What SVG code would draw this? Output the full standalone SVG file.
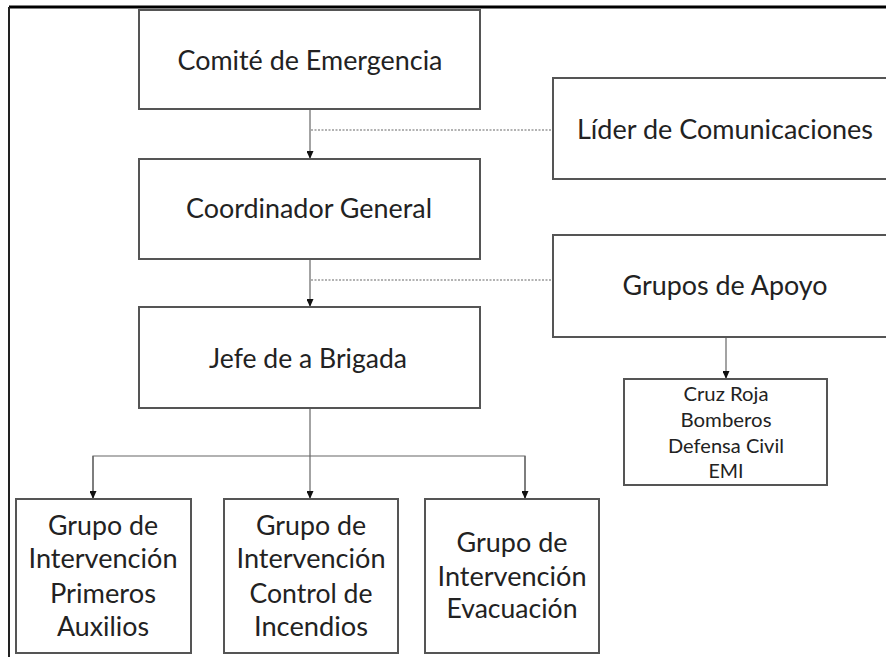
<svg xmlns="http://www.w3.org/2000/svg" width="886" height="657" viewBox="0 0 886 657">
<defs>
<marker id="ah" markerWidth="8" markerHeight="7" refX="8" refY="3.5" orient="auto" markerUnits="userSpaceOnUse">
<path d="M0,0 L8,3.5 L0,7 Z" fill="#111"/>
</marker>
<style>
.box{fill:#fff;stroke:#555;stroke-width:2}
.t{font-family:Lato,"Open Sans","Liberation Sans",sans-serif;fill:#222;text-anchor:middle}
.big{font-size:27px}
.mid{font-size:26px}
.sm{font-size:19px}
.con{fill:none;stroke:#666;stroke-width:1.2}
.dot{fill:none;stroke:#999;stroke-width:1.5;stroke-dasharray:2 1.5}
</style>
</defs>
<rect x="0" y="0" width="886" height="657" fill="#fff"/>
<g id="frame">
<line x1="9" y1="7" x2="886" y2="7" stroke="#000" stroke-width="3"/>
<line x1="9" y1="7" x2="9" y2="657" stroke="#222" stroke-width="2"/>
</g>
<g id="connectors">
<line class="con" x1="310" y1="109" x2="310" y2="159" marker-end="url(#ah)"/>
<line class="con" x1="310" y1="259" x2="310" y2="307" marker-end="url(#ah)"/>
<line class="dot" x1="311" y1="130" x2="553" y2="130"/>
<line class="dot" x1="311" y1="280" x2="553" y2="280"/>
<polyline class="con" points="310,408 310,456"/>
<polyline class="con" points="93,499 93,456 525,456 525,499"/>
<line class="con" x1="93" y1="456" x2="93" y2="499" marker-end="url(#ah)"/>
<line class="con" x1="310" y1="456" x2="310" y2="499" marker-end="url(#ah)"/>
<line class="con" x1="525" y1="456" x2="525" y2="499" marker-end="url(#ah)"/>
<line class="con" x1="726" y1="337" x2="726" y2="379" marker-end="url(#ah)"/>
</g>
<g id="comite">
<rect class="box" x="139" y="10" width="341" height="99"/>
<text class="t big" x="310" y="70" textLength="265" lengthAdjust="spacingAndGlyphs">Comité de Emergencia</text>
</g>
<g id="coordinador">
<rect class="box" x="139" y="159" width="341" height="100"/>
<text class="t big" x="309" y="218" textLength="246" lengthAdjust="spacingAndGlyphs">Coordinador General</text>
</g>
<g id="jefe">
<rect class="box" x="139" y="307" width="341" height="101"/>
<text class="t big" x="308" y="368" textLength="198" lengthAdjust="spacingAndGlyphs">Jefe de a Brigada</text>
</g>
<g id="lider">
<rect class="box" x="553" y="78" width="345" height="101"/>
<text class="t big" x="725" y="139" textLength="296" lengthAdjust="spacingAndGlyphs">Líder de Comunicaciones</text>
</g>
<g id="apoyo">
<rect class="box" x="553" y="235" width="345" height="102"/>
<text class="t big" x="725" y="295" textLength="205" lengthAdjust="spacingAndGlyphs">Grupos de Apoyo</text>
</g>
<g id="entidades">
<rect class="box" x="624" y="379" width="203" height="106"/>
<text class="t sm" x="726" y="401" textLength="85" lengthAdjust="spacingAndGlyphs">Cruz Roja</text>
<text class="t sm" x="726" y="427" textLength="91" lengthAdjust="spacingAndGlyphs">Bomberos</text>
<text class="t sm" x="726" y="453" textLength="116" lengthAdjust="spacingAndGlyphs">Defensa Civil</text>
<text class="t sm" x="726" y="478" textLength="35" lengthAdjust="spacingAndGlyphs">EMI</text>
</g>
<g id="primeros">
<rect class="box" x="16" y="499" width="175" height="154"/>
<text class="t mid" x="103" y="535" textLength="110" lengthAdjust="spacingAndGlyphs">Grupo de</text>
<text class="t mid" x="103" y="568" textLength="149" lengthAdjust="spacingAndGlyphs">Intervención</text>
<text class="t mid" x="103" y="603" textLength="106" lengthAdjust="spacingAndGlyphs">Primeros</text>
<text class="t mid" x="103" y="636" textLength="92" lengthAdjust="spacingAndGlyphs">Auxilios</text>
</g>
<g id="incendios">
<rect class="box" x="224" y="499" width="174" height="154"/>
<text class="t mid" x="311" y="535" textLength="110" lengthAdjust="spacingAndGlyphs">Grupo de</text>
<text class="t mid" x="311" y="568" textLength="149" lengthAdjust="spacingAndGlyphs">Intervención</text>
<text class="t mid" x="311" y="603" textLength="123" lengthAdjust="spacingAndGlyphs">Control de</text>
<text class="t mid" x="311" y="636" textLength="114" lengthAdjust="spacingAndGlyphs">Incendios</text>
</g>
<g id="evacuacion">
<rect class="box" x="425" y="499" width="174" height="154"/>
<text class="t mid" x="512" y="552" textLength="111" lengthAdjust="spacingAndGlyphs">Grupo de</text>
<text class="t mid" x="512" y="586" textLength="149" lengthAdjust="spacingAndGlyphs">Intervención</text>
<text class="t mid" x="512" y="618" textLength="131" lengthAdjust="spacingAndGlyphs">Evacuación</text>
</g>
</svg>
